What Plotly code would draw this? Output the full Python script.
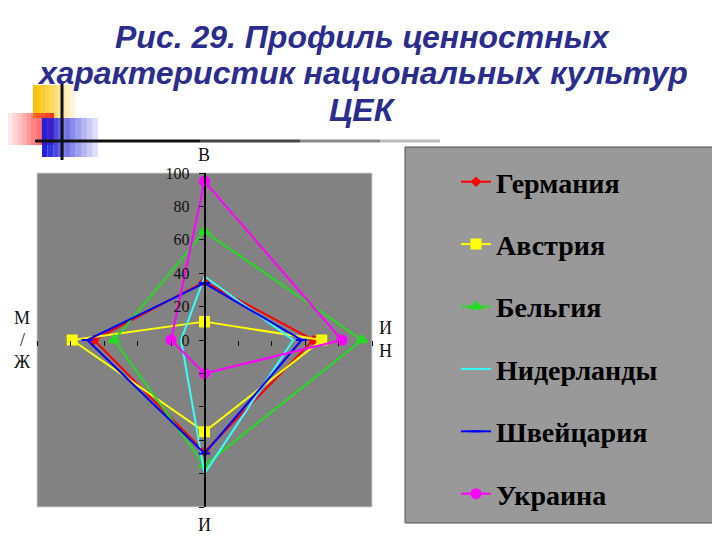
import plotly.graph_objects as go

# ---------------- data ----------------
axis_names = ["В", "И/Н", "И", "М/Ж"]          # top, right, bottom, left spokes
countries = ["Германия", "Австрия", "Бельгия", "Нидерланды", "Швейцария", "Украина"]
germany = [35, 65, 67, 66]
austria = [11, 70, 55, 79]
belgium = [65, 94, 75, 54]
netherlands = [38, 53, 80, 14]
switzerland = [34, 58, 68, 70]
ukraine = [95, 82, 20, 20]
series = [germany, austria, belgium, netherlands, switzerland, ukraine]
value_ticks = [0, 20, 40, 60, 80, 100]

colors = ["#FF0000", "#FFFF00", "#22DD22", "#33FFFF", "#0000FF", "#FF00FF"]
symbols = ["diamond", "square", "triangle-up", None, "line-ew-open", "circle"]
msizes = [6, 9, 9, 0, 8, 9]

OFF = 8                      # page body margin of the browser
W, H = 720 - OFF, 540 - OFF
# plot area, in screen pixels
SL, SR, ST, SB = 37, 372, 173, 507
L, R, T, B = SL - OFF, SR - OFF, ST - OFF, SB - OFF


def px(x, y):
    """screen pixel -> paper coords"""
    return (x - SL) / (SR - SL), (SB - y) / (SB - ST)


fig = go.Figure()

for name, vals, c, s, ms in zip(countries, series, colors, symbols, msizes):
    top, right, bottom, left = vals
    xs = [0, right, 0, -left, 0]
    ys = [top, 0, -bottom, 0, top]
    kw = dict(mode="lines")
    if s:
        kw = dict(mode="lines+markers",
                  marker=dict(symbol=s, size=ms, color=c, line=dict(color=c, width=2)))
    fig.add_trace(go.Scatter(x=xs, y=ys, name=name, legendgroup=name,
                             line=dict(color=c, width=2), **kw))

shapes = []
# plot area border
shapes.append(dict(type="rect", xref="paper", yref="paper", x0=0, x1=1, y0=0, y1=1,
                   line=dict(color="#d0d0d0", width=1), layer="below"))
# legend box
x0, y0 = px(405, 523)
x1, y1 = px(718, 147)
shapes.append(dict(type="rect", xref="paper", yref="paper", x0=x0, x1=x1, y0=y0, y1=y1,
                   fillcolor="#999999", line=dict(color="#555555", width=1), layer="below"))


def strip_rect(xa, ya, xb, yb, color, fade="right", n=10):
    out = []
    for i in range(n):
        ax0 = xa + (xb - xa) * i / n
        ax1 = xa + (xb - xa) * (i + 1) / n
        if fade == "right":
            op = 1.0 - 0.95 * i / n
        else:
            op = 0.1 + 0.9 * i / n
        p0 = px(ax0, yb)
        p1 = px(ax1, ya)
        out.append(dict(type="rect", xref="paper", yref="paper", x0=p0[0], x1=p1[0],
                        y0=p0[1], y1=p1[1], fillcolor=color, opacity=op,
                        line=dict(width=0)))
    return out

# decorative template squares
shapes += strip_rect(33, 85, 75, 118, "#FFC000", "right")
shapes += strip_rect(8, 113, 54, 145, "#FF2020", "left")
shapes += strip_rect(42, 118, 98, 157, "#2020DD", "right")
a = px(62, 83); b = px(62, 160)
shapes.append(dict(type="line", xref="paper", yref="paper", x0=a[0], x1=b[0], y0=a[1], y1=b[1],
                   line=dict(color="#111111", width=3)))
for xa, xb, col in [(35, 200, "#111111"), (200, 300, "#444444"),
                    (300, 380, "#888888"), (380, 440, "#bbbbbb")]:
    a = px(xa, 141); b = px(xb, 141)
    shapes.append(dict(type="line", xref="paper", yref="paper", x0=a[0], x1=b[0], y0=a[1], y1=b[1],
                       line=dict(color=col, width=3)))

annotations = []
title_lines = ["Рис. 29. Профиль ценностных", "характеристик национальных культур", "ЦЕК"]
for txt, yy in zip(title_lines, [37, 73, 110]):
    p = px(362, yy)
    annotations.append(dict(text=txt, x=p[0], y=p[1], xref="paper", yref="paper",
                            showarrow=False, xanchor="center", yanchor="middle",
                            font=dict(family="Liberation Sans", size=32, color="#2B2D8E",
                                      weight="bold", style="italic")))

axis_font = dict(family="Liberation Serif", size=18, color="#111111")
for txt, (xx, yy) in [("В", (204, 155)), ("И", (385, 328)), ("Н", (385, 351)),
                      ("М", (22, 318)), ("/", (22, 340)), ("Ж", (22, 362)),
                      ("И", (204, 525))]:
    p = px(xx, yy)
    annotations.append(dict(text=txt, x=p[0], y=p[1], xref="paper", yref="paper",
                            showarrow=False, xanchor="center", yanchor="middle",
                            font=axis_font))

lx, ly = px(456, 157)
fig.update_layout(
    width=W, height=H,
    margin=dict(l=L, r=W - R, t=T, b=H - B, pad=0, autoexpand=False),
    paper_bgcolor="white",
    plot_bgcolor="#828282",
    showlegend=True,
    legend=dict(x=lx, y=ly, xanchor="left", yanchor="top", bgcolor="rgba(0,0,0,0)",
                font=dict(family="Liberation Serif", size=28, color="#000000", weight="bold"),
                tracegroupgap=23, itemwidth=30, maxheight=540),
    xaxis=dict(range=[-100, 100], showgrid=False, zeroline=False, showline=False,
               anchor="free", position=0.5,
               tickvals=[-100, -80, -60, -40, -20, 20, 40, 60, 80, 100],
               ticks="outside", ticklen=5, tickcolor="#111111", showticklabels=False,
               fixedrange=True),
    yaxis=dict(range=[-100, 100], showgrid=False, zeroline=False, showline=True,
               linecolor="#000000", linewidth=1.5, anchor="free", position=0.5,
               tickvals=[-100, -80, -60, -40, -20] + value_ticks,
               ticktext=[""] * 5 + [str(v) for v in value_ticks],
               ticks="outside", ticklen=5, tickcolor="#111111",
               tickfont=dict(family="Liberation Serif", size=16, color="#111111"),
               ticklabelstandoff=6, fixedrange=True),
    shapes=shapes,
    annotations=annotations,
)

fig.write_html("out.html")
